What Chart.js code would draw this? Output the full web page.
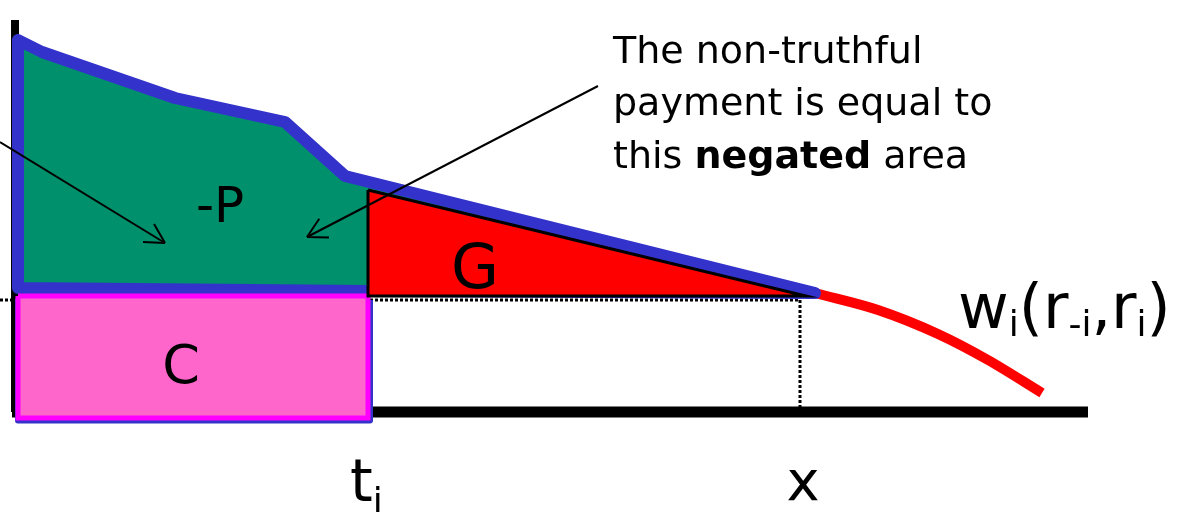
<!DOCTYPE html>
<html>
<head>
<meta charset="utf-8">
<script src="https://cdn.jsdelivr.net/npm/chart.js@4.4.1/dist/chart.umd.min.js"></script>
<style>
    html, body { margin: 0; padding: 0; background: #ffffff; }
    canvas { display: block; }
</style>
</head>
<body>
<canvas id="diagram" width="1178" height="512"></canvas>
<script>
// ============================================
// DATA  (x = reported value, y = allocation w_i)
// ============================================

// allocation curve w_i(r_-i, r_i) up to x (under the blue outline)
const curveX = [0, 2.4, 15.7, 26.7, 32.7, 79.7];
const curveY = [37.2, 36.0, 31.4, 29.0, 23.6, 11.9];

// bottom edge of the -P area, right to left
const areaBottomX = [79.7, 35.0, 0];
const areaBottomY = [11.9, 12.1, 12.4];

// tail of the curve after x
const tailX = [79.7, 86.0, 92.0, 97.0, 102.4];
const tailY = [11.9, 10.2, 7.8, 5.2, 1.9];

// key values on the axes
const tI = 35.0;       // true value t_i
const xBid = 78.2;     // reported value x
const level = 11.2;    // w_i at x (dotted line)

// G triangle and C rectangle
const triX = [35.0, 35.0, 78.8, 35.0];
const triY = [22.2, 11.6, 11.6, 22.2];
const rectX = [0, 0, 35.0, 35.0, 0];
const rectY = [11.6, -0.6, -0.6, 11.6, 11.6];

// axes
const axisEndX = 107;
const axisTopY = 39.2;

// arrows (tail -> tip)
const arrow1X = [-1.8, 14.7];
const arrow1Y = [27.0, 16.9];
const arrow2X = [58.0, 28.9];
const arrow2Y = [32.6, 17.5];

// text
const noteLines = ['The non-truthful', 'payment is equal to', 'this '];
const noteBold = 'negated';
const noteTail = ' area';

// ============================================
// HELPERS
// ============================================

function pts(xs, ys) {
    return xs.map((v, i) => ({ x: v, y: ys[i] }));
}

const FONT = '"DejaVu Sans", sans-serif';

function drawRuns(ctx, px, py, runs, align) {
    let total = 0;
    runs.forEach(r => {
        ctx.font = (r.bold ? 'bold ' : '') + r.size + 'px ' + FONT;
        r.w = ctx.measureText(r.text).width;
        total += r.w;
    });
    let cx = align === 'center' ? px - total / 2 : px;
    ctx.textAlign = 'left';
    ctx.textBaseline = 'alphabetic';
    runs.forEach(r => {
        ctx.font = (r.bold ? 'bold ' : '') + r.size + 'px ' + FONT;
        ctx.fillText(r.text, cx, py + (r.dy || 0));
        cx += r.w;
    });
}

// ============================================
// LABELS + ARROWHEADS PLUGIN
// ============================================

const labelsPlugin = {
    id: 'labels',
    afterDatasetsDraw(chart) {
        const { ctx, scales: { x, y } } = chart;
        ctx.save();
        ctx.fillStyle = '#000000';

        // arrowheads
        [[arrow1X, arrow1Y], [arrow2X, arrow2Y]].forEach(([xs, ys]) => {
            const x0 = x.getPixelForValue(xs[0]), y0 = y.getPixelForValue(ys[0]);
            const x1 = x.getPixelForValue(xs[1]), y1 = y.getPixelForValue(ys[1]);
            const ang = Math.atan2(y1 - y0, x1 - x0);
            ctx.strokeStyle = '#000000';
            ctx.lineWidth = 2;
            ctx.beginPath();
            [-0.5, 0.5].forEach(d => {
                ctx.moveTo(x1, y1);
                ctx.lineTo(x1 - 22 * Math.cos(ang + d), y1 - 22 * Math.sin(ang + d));
            });
            ctx.stroke();
        });

        // note text
        const nx = x.getPixelForValue(59.5);
        const base = [34.9, 29.7, 24.4].map(v => y.getPixelForValue(v));
        drawRuns(ctx, nx, base[0], [{ text: noteLines[0], size: 38 }]);
        drawRuns(ctx, nx, base[1], [{ text: noteLines[1], size: 38 }]);
        drawRuns(ctx, nx, base[2], [
            { text: noteLines[2], size: 38 },
            { text: noteBold, size: 38, bold: true },
            { text: noteTail, size: 38 }
        ]);

        // area labels
        drawRuns(ctx, x.getPixelForValue(20.2), y.getPixelForValue(19.0), [{ text: '-P', size: 50 }], 'center');
        drawRuns(ctx, x.getPixelForValue(45.7), y.getPixelForValue(12.4), [{ text: 'G', size: 62 }], 'center');
        drawRuns(ctx, x.getPixelForValue(16.3), y.getPixelForValue(2.9), [{ text: 'C', size: 54 }], 'center');

        // axis labels
        drawRuns(ctx, x.getPixelForValue(33.2), y.getPixelForValue(-8.9), [
            { text: 't', size: 58 },
            { text: 'i', size: 36, dy: 12 }
        ]);
        drawRuns(ctx, x.getPixelForValue(78.5), y.getPixelForValue(-8.8), [{ text: 'x', size: 56 }], 'center');

        // curve label
        drawRuns(ctx, x.getPixelForValue(94.0), y.getPixelForValue(8.4), [
            { text: 'w', size: 62 },
            { text: 'i', size: 36, dy: 8 },
            { text: '(r', size: 62 },
            { text: '-i', size: 36, dy: 8 },
            { text: ',r', size: 62 },
            { text: 'i', size: 36, dy: 8 },
            { text: ')', size: 62 }
        ]);
        ctx.restore();
    }
};

// ============================================
// DATASETS (listed back to front)
// ============================================

const areaPoly = pts(
    curveX.concat(areaBottomX.slice(1), [curveX[0]]),
    curveY.concat(areaBottomY.slice(1), [curveY[0]])
);

const layers = [
    { // x axis
        data: pts([-0.6, axisEndX], [0, 0]),
        borderColor: '#000000', borderWidth: 11, borderCapStyle: 'butt'
    },
    { // y axis
        data: pts([-0.3, -0.3], [0, axisTopY]),
        borderColor: '#000000', borderWidth: 8, borderCapStyle: 'butt'
    },
    { // dotted level line
        data: pts([-1.8, xBid], [level, level]),
        borderColor: '#000000', borderWidth: 3, borderDash: [3, 2]
    },
    { // dotted drop line at x
        data: pts([xBid, xBid], [level, 0.5]),
        borderColor: '#000000', borderWidth: 3, borderDash: [3, 2]
    },
    { // -P area
        data: areaPoly,
        fill: 'shape', backgroundColor: '#00906c', borderWidth: 0
    },
    { // curve tail
        data: pts(tailX, tailY),
        borderColor: '#ff0000', borderWidth: 10,
        cubicInterpolationMode: 'monotone', borderCapStyle: 'butt'
    },
    { // blue outline of the area under the curve
        data: areaPoly,
        borderColor: '#3333cc', borderWidth: 12, borderJoinStyle: 'round', borderCapStyle: 'round'
    },
    { // blue shadow under C
        data: pts([0, 0, tI + 0.2, tI + 0.2], [level, -0.85, -0.85, level]),
        borderColor: '#3333cc', borderWidth: 6, borderJoinStyle: 'round'
    },
    { // C rectangle
        data: pts(rectX, rectY),
        fill: 'shape', backgroundColor: '#ff66cc',
        borderColor: '#ff00ff', borderWidth: 5, borderJoinStyle: 'miter'
    },
    { // G triangle
        data: pts(triX, triY),
        fill: 'shape', backgroundColor: '#ff0000',
        borderColor: '#000000', borderWidth: 3, borderJoinStyle: 'miter'
    },
    { // arrow 1
        data: pts(arrow1X, arrow1Y),
        borderColor: '#000000', borderWidth: 2
    },
    { // arrow 2
        data: pts(arrow2X, arrow2Y),
        borderColor: '#000000', borderWidth: 2
    }
];

const datasets = layers.map((d, i) => Object.assign({
    showLine: true,
    pointRadius: 0,
    fill: false,
    tension: 0,
    clip: false,
    order: layers.length - i
}, d));

// ============================================
// CHART
// ============================================

new Chart(document.getElementById('diagram').getContext('2d'), {
    type: 'scatter',
    data: { datasets },
    options: {
        responsive: false,
        animation: false,
        events: [],
        layout: { padding: 0 },
        plugins: {
            legend: { display: false },
            tooltip: { enabled: false }
        },
        scales: {
            x: { type: 'linear', min: -1.8, max: 116.0, display: false },
            y: { type: 'linear', min: -10, max: 41.2, display: false }
        }
    },
    plugins: [labelsPlugin]
});
</script>
</body>
</html>
